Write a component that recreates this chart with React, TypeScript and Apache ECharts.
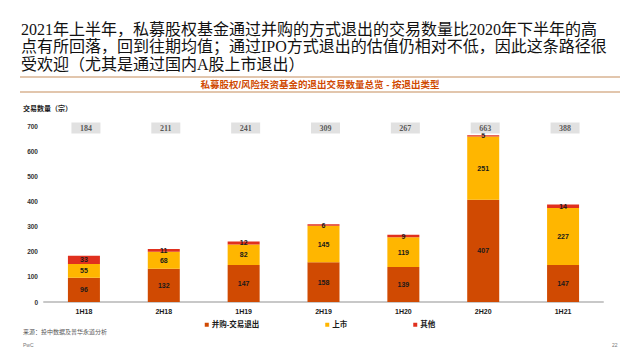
import React, { useEffect, useRef } from "react";
import * as echarts from "echarts";

const categories = ["1H18", "2H18", "1H19", "2H19", "1H20", "2H20", "1H21"];
const mnaValues = [96, 132, 147, 158, 139, 407, 147];
const ipoValues = [55, 68, 82, 145, 119, 251, 227];
const otherValues = [33, 11, 12, 6, 9, 5, 14];
const totals = [184, 211, 241, 309, 267, 663, 388];
const seriesNames = ["并购-交易退出", "上市", "其他"];
const titleLines = [
  "2021年上半年，私募股权基金通过并购的方式退出的交易数量比2020年下半年的高",
  "点有所回落，回到往期均值；通过IPO方式退出的估值仍相对不低，因此这条路径很",
  "受欢迎（尤其是通过国内A股上市退出）",
];
const subtitle = "私募股权/风险投资基金的退出交易数量总览 - 按退出类型";
const yAxisTitle = "交易数量（宗）";
const sourceText = "来源：投中数据及普华永道分析";
const footerLeft = "PwC";
const footerRight = "22";

const SANS = "'Liberation Sans', 'Noto Sans CJK SC', sans-serif";
const SERIF = "'Liberation Serif', 'Noto Sans CJK SC', serif";

export default function App() {
  const ref = useRef<HTMLDivElement>(null);
  useEffect(() => {
    document.body.style.margin = "0";
    const chart = echarts.init(ref.current!, null, { renderer: "svg" });
    const barLabel = {
      show: true,
      position: "inside",
      color: "#1a1a1a",
      fontSize: 7,
      fontWeight: "bold",
      fontFamily: SANS,
    };
    chart.setOption({
      animation: false,
      backgroundColor: "#ffffff",
      grid: { left: 44, right: 37, top: 126, bottom: 58, containLabel: false },
      legend: {
        data: seriesNames,
        left: "center",
        top: 316,
        itemWidth: 4,
        itemHeight: 4,
        itemGap: 66,
        icon: "rect",
        textStyle: { fontSize: 7.5, fontWeight: "bold", color: "#1a1a1a", fontFamily: SANS, padding: [0, 0, 0, -2] },
      },
      xAxis: {
        type: "category",
        data: categories,
        axisLine: { lineStyle: { color: "#c8c8c8", width: 2 } },
        axisTick: { show: false },
        axisLabel: { fontSize: 7, fontWeight: "bold", color: "#1a1a1a", fontFamily: SANS, margin: 6 },
      },
      yAxis: {
        type: "value",
        min: 0,
        max: 700,
        interval: 100,
        splitLine: { show: false },
        axisLine: { show: false },
        axisTick: { show: false },
        axisLabel: { fontSize: 6.5, fontWeight: "bold", color: "#333333", fontFamily: SANS, margin: 6 },
      },
      graphic: [
        ...titleLines.map((t, i) => ({
          type: "text",
          left: 21,
          top: 21 + i * 17.5,
          style: { text: t, font: `16px ${SERIF}`, fill: "#111111" },
        })),
        { type: "line", shape: { x1: 20, y1: 77, x2: 620, y2: 77 }, style: { stroke: "#d9b392", lineWidth: 1.5 } },
        { type: "line", shape: { x1: 20, y1: 92, x2: 620, y2: 92 }, style: { stroke: "#d9b392", lineWidth: 1.5 } },
        {
          type: "text",
          x: 320,
          y: 84.5,
          style: { text: subtitle, font: `bold 9.5px ${SANS}`, fill: "#d04a02", align: "center", verticalAlign: "middle" },
        },
        {
          type: "text",
          x: 23,
          y: 108,
          style: { text: yAxisTitle, font: `bold 7px ${SANS}`, fill: "#1a1a1a", verticalAlign: "middle" },
        },
        {
          type: "text",
          x: 23,
          y: 332,
          style: { text: sourceText, font: `6px ${SANS}`, fill: "#555555", verticalAlign: "middle" },
        },
        {
          type: "text",
          x: 23,
          y: 345,
          style: { text: footerLeft, font: `5px ${SANS}`, fill: "#777777", verticalAlign: "middle" },
        },
        {
          type: "text",
          x: 612,
          y: 345,
          style: { text: footerRight, font: `5px ${SANS}`, fill: "#777777", verticalAlign: "middle" },
        },
      ],
      series: [
        {
          name: seriesNames[0],
          type: "bar",
          stack: "total",
          data: mnaValues,
          barWidth: 32,
          itemStyle: { color: "#d04a02" },
          label: barLabel,
        },
        {
          name: seriesNames[1],
          type: "bar",
          stack: "total",
          data: ipoValues,
          barWidth: 32,
          itemStyle: { color: "#ffb600" },
          label: barLabel,
        },
        {
          name: seriesNames[2],
          type: "bar",
          stack: "total",
          data: otherValues,
          barWidth: 32,
          itemStyle: { color: "#e0301e" },
          label: barLabel,
        },
        {
          name: "total",
          type: "scatter",
          data: totals.map((v, i) => [i, 700, v]),
          symbol: "rect",
          symbolSize: [29, 11],
          symbolOffset: [2, 2],
          clip: false,
          itemStyle: { color: "#d9d9d9" },
          label: {
            show: true,
            position: "inside",
            formatter: (p: any) => String(p.value[2]),
            fontSize: 8,
            fontWeight: "bold",
            color: "#333333",
            fontFamily: SERIF,
          },
          silent: true,
        },
      ],
    });
    return () => chart.dispose();
  }, []);
  return <div ref={ref} style={{ width: 640, height: 360, position: "absolute", left: 0, top: 0 }} />;
}
